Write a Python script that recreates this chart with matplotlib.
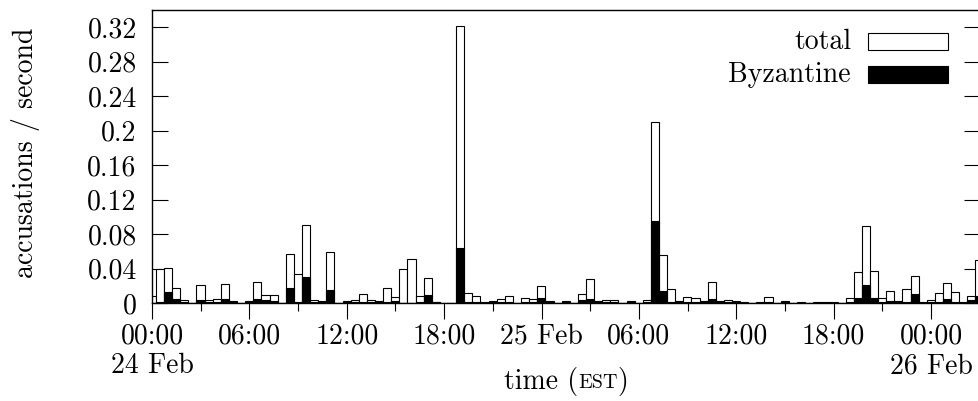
import numpy as np
import matplotlib
matplotlib.use("Agg")
import matplotlib.pyplot as plt
from matplotlib.patches import Rectangle
from matplotlib.offsetbox import TextArea, HPacker, AnnotationBbox

# accusations / second in 30-minute bins, starting 24 Feb 00:00 EST
total = [0.0085, 0.040, 0.0404, 0.0175, 0.0043, 0.0005, 0.0213, 0.0043, 0.005, 0.022,
         0.0027, 0.0008, 0.0027, 0.0245, 0.0097, 0.0097, 0.0008, 0.0566, 0.0334, 0.0905,
         0.0039, 0.0027, 0.0594, 0.0008, 0.0025, 0.0043, 0.0105, 0.0035, 0.0027, 0.0178,
         0.007, 0.0396, 0.0512, 0.0081, 0.0295, 0.002, 0.0008, 0.0004, 0.322, 0.0116,
         0.0081, 0.001, 0.003, 0.0047, 0.0085, 0.0008, 0.0066, 0.0054, 0.020, 0.0027,
         0.0008, 0.0027, 0.0008, 0.0105, 0.028, 0.003, 0.0043, 0.0039, 0.0004, 0.003,
         0.0008, 0.0039, 0.210, 0.056, 0.016, 0.0023, 0.0074, 0.0062, 0.0027, 0.0248,
         0.0027, 0.0035, 0.0023, 0.0012, 0.0008, 0.0016, 0.0078, 0.0004, 0.003, 0.0008,
         0.0012, 0.0004, 0.0012, 0.0012, 0.0012, 0.0004, 0.0058, 0.036, 0.0897, 0.0372,
         0.0066, 0.014, 0.0027, 0.016, 0.0314, 0.0012, 0.0039, 0.0116, 0.024, 0.0128,
         0.0012, 0.0081, 0.050]
byzantine = [0.0005, 0.001, 0.0136, 0.0047, 0.001, 0.0, 0.0035, 0.001, 0.001, 0.0054,
             0.001, 0.0003, 0.001, 0.005, 0.0035, 0.003, 0.0003, 0.0182, 0.001, 0.030,
             0.001, 0.001, 0.0151, 0.0003, 0.001, 0.0015, 0.0016, 0.001, 0.001, 0.0012,
             0.0027, 0.0005, 0.0005, 0.001, 0.010, 0.001, 0.0003, 0.0002, 0.0643, 0.0016,
             0.001, 0.0003, 0.001, 0.001, 0.001, 0.0003, 0.001, 0.001, 0.0062, 0.001,
             0.0003, 0.001, 0.0003, 0.0035, 0.0054, 0.001, 0.001, 0.001, 0.0002, 0.001,
             0.0003, 0.001, 0.095, 0.0144, 0.0016, 0.001, 0.002, 0.001, 0.001, 0.0047,
             0.001, 0.001, 0.001, 0.0005, 0.0003, 0.0005, 0.001, 0.0002, 0.001, 0.0003,
             0.0005, 0.0002, 0.0005, 0.0005, 0.0005, 0.0002, 0.001, 0.0062, 0.021, 0.0062,
             0.002, 0.0023, 0.001, 0.001, 0.0105, 0.0005, 0.001, 0.001, 0.0054, 0.002,
             0.0005, 0.0039, 0.0085]

bin_hours = 0.5  # bin width in hours
xtick_hours = [0, 6, 12, 18, 24, 30, 36, 42, 48]
xtick_labels = ["00:00\n24 Feb", "06:00", "12:00", "18:00", "25 Feb",
                "06:00", "12:00", "18:00", "00:00\n26 Feb"]
ytick_values = [0, 0.04, 0.08, 0.12, 0.16, 0.2, 0.24, 0.28, 0.32]
ytick_labels = ["0", "0.04", "0.08", "0.12", "0.16", "0.2", "0.24", "0.28", "0.32"]

FONT = "cmr10"
FS = 20
plt.rcParams["font.family"] = FONT
plt.rcParams["axes.formatter.use_mathtext"] = True

W, H = 979, 401
fig = plt.figure(figsize=(W / 100, H / 100), dpi=100)
ax_left, ax_right, ax_top, ax_bot = 152, 979.7, 10, 303.3
ax = fig.add_axes([ax_left / W, (H - ax_bot) / H, (ax_right - ax_left) / W, (ax_bot - ax_top) / H])

hours = np.arange(len(total)) * bin_hours - 0.01
ax.bar(hours, total, width=bin_hours, color="white", edgecolor="black", linewidth=0.8, zorder=2)
ax.bar(hours, byzantine, width=bin_hours, color="black", edgecolor="black", linewidth=0.8, zorder=3)

ax.set_xlim(0, 51)
ax.set_ylim(0, 0.34)

ax.set_xticks(xtick_hours)
ax.set_xticklabels(xtick_labels, fontsize=FS, linespacing=1.15)
ax.set_xticks(np.arange(3, 51, 6), minor=True)
ax.tick_params(axis="x", which="major", direction="out", length=11.5, width=0.8, pad=3,
               top=False)
ax.tick_params(axis="x", which="minor", direction="out", length=5.8, width=0.8, top=False)

ax.set_yticks(ytick_values)
ax.set_yticklabels(ytick_labels, fontsize=FS)
ax.tick_params(axis="y", which="major", direction="in", length=11.5, width=0.8, pad=11,
               left=True, right=True)

for s in ax.spines.values():
    s.set_linewidth(1.0)

# legend (gnuplot-style: text right-aligned, key box to the right)
leg_items = [("total", "white", 0.8926), ("Byzantine", "black", 0.780)]
for label, fc, yc in leg_items:
    ax.text(0.8445, yc, label, transform=ax.transAxes, ha="right", va="center",
            fontsize=FS, zorder=5)
    ax.add_patch(Rectangle((0.865, yc - 0.029), 0.0967, 0.058, transform=ax.transAxes,
                           facecolor=fc, edgecolor="black", linewidth=0.8, zorder=5,
                           clip_on=False))

# y label
fig.text(26 / W, (H - 152.5) / H, "accusations / second", rotation=90,
         ha="center", va="center", fontsize=FS)

# x label with small-caps EST
ta1 = TextArea("time (", textprops=dict(fontsize=FS, family=FONT))
ta2 = TextArea("EST", textprops=dict(fontsize=14.5, family=FONT))
ta3 = TextArea(")", textprops=dict(fontsize=FS, family=FONT))
box = HPacker(children=[ta1, ta2, ta3], align="baseline", pad=0, sep=0)
ab = AnnotationBbox(box, xy=(566 / W, (H - 381) / H), xycoords="figure fraction",
                    frameon=False, box_alignment=(0.5, 0.5), pad=0)
fig.add_artist(ab)

fig.savefig("out.png", dpi=100)
